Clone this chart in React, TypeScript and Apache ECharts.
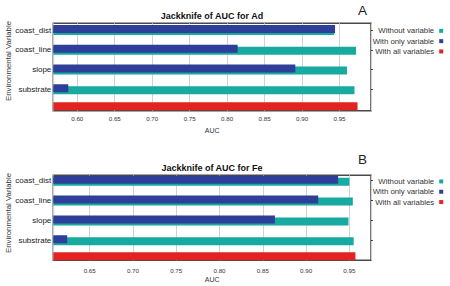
import React, { useEffect, useRef } from 'react';
import * as echarts from 'echarts';

const variables = ['coast_dist', 'coast_line', 'slope', 'substrate'];
const allLabel = ['all variables'];
const legendNames = ['Without variable', 'With only variable', 'With all variables'];

const adWithout = [0.943, 0.972, 0.960, 0.970];
const adWithOnly = [0.944, 0.814, 0.891, 0.588];
const adAll = [0.974];
const adRange = [0.568, 0.992];

const feWithout = [0.950, 0.954, 0.949, 0.955];
const feWithOnly = [0.937, 0.914, 0.864, 0.624];
const feAll = [0.957];
const feRange = [0.608, 0.975];

const titles = ['Jackknife of AUC for Ad', 'Jackknife of AUC for Fe'];
const panelLetters = ['A', 'B'];
const xName = 'AUC';
const yName = 'Environmental Variable';

export default function App() {
  const ref = useRef<HTMLDivElement>(null);
  useEffect(() => {
    if (!ref.current) return;
    const chart = echarts.init(ref.current, null, { renderer: 'svg' });
    const font = '"Liberation Sans", Arial, Helvetica, sans-serif';
    const teal = '#17aaa1';
    const blue = '#2d3f98';
    const red = '#e2231f';
    const panels = [
      {
        without: adWithout, only: adWithOnly, all: adAll, range: adRange,
        frameTop: 23.3, frameBottom: 110.7, rowFirst: 30, rowLast: 89.3, redCenter: 106.2,
        titleY: 16, letterY: 10.7, legendTop: 25.7, labelMargin: 5, yNameY: 61,
      },
      {
        without: feWithout, only: feWithOnly, all: feAll, range: feRange,
        frameTop: 175.3, frameBottom: 260.3, rowFirst: 180.7, rowLast: 240.3, redCenter: 256.3,
        titleY: 168, letterY: 159.7, legendTop: 176.3, labelMargin: 7.5, yNameY: 213,
      },
    ];
    const left = 53.3;
    const right = 79;
    const grid: any[] = [];
    const xAxis: any[] = [];
    const yAxis: any[] = [];
    const series: any[] = [];
    const graphic: any[] = [];
    const legend: any[] = [];

    panels.forEach((p, i) => {
      const band = (p.rowLast - p.rowFirst) / (variables.length - 1);
      const g0 = grid.length;
      grid.push({
        left, right, top: p.frameTop, height: p.frameBottom - p.frameTop,
        show: true, borderColor: '#4a4a4a', borderWidth: 1.5, backgroundColor: 'transparent',
      });
      grid.push({ left, right, top: p.rowFirst - band / 2, height: band * variables.length });
      grid.push({ left, right, top: p.redCenter - 4.5, height: 9 });

      xAxis.push({
        gridIndex: g0, type: 'value', min: p.range[0], max: p.range[1], splitNumber: 8,
        axisLine: { show: false }, axisTick: { show: false },
        splitLine: { show: true, lineStyle: { color: '#d2d2d2', width: 1 } },
        axisLabel: {
          showMinLabel: false, showMaxLabel: false,
          formatter: (v: number) => v.toFixed(2),
          fontSize: 6.2, color: '#333', margin: p.labelMargin, fontFamily: font,
        },
        name: xName, nameLocation: 'middle', nameGap: 16,
        nameTextStyle: { fontSize: 7, color: '#333', fontFamily: font },
      });
      xAxis.push({ gridIndex: g0 + 1, type: 'value', min: p.range[0], max: p.range[1], show: false });
      xAxis.push({ gridIndex: g0 + 2, type: 'value', min: p.range[0], max: p.range[1], show: false });

      const y0 = yAxis.length;
      yAxis.push({ gridIndex: g0, type: 'value', show: false, min: 0, max: 1 });
      yAxis.push({
        gridIndex: g0 + 1, type: 'category', data: variables, inverse: true,
        axisLine: { show: false }, axisTick: { show: false },
        axisLabel: { fontSize: 8, color: '#222', margin: 2, fontFamily: font },
      });
      yAxis.push({
        gridIndex: g0 + 1, type: 'category', data: variables, inverse: true, position: 'right',
        axisLine: { show: false },
        axisTick: { show: true, alignWithLabel: true, length: 2, lineStyle: { color: '#444' } },
        axisLabel: { show: false },
      });
      yAxis.push({ gridIndex: g0 + 2, type: 'category', data: allLabel, show: false });

      series.push({
        type: 'bar', name: legendNames[1], xAxisIndex: g0 + 1, yAxisIndex: y0 + 1,
        data: p.only, barWidth: 8, barGap: '-75%', itemStyle: { color: blue }, z: 3, clip: true,
      });
      series.push({
        type: 'bar', name: legendNames[0], xAxisIndex: g0 + 1, yAxisIndex: y0 + 1,
        data: p.without, barWidth: 8, barGap: '-75%', itemStyle: { color: teal }, z: 2, clip: true,
      });
      series.push({
        type: 'bar', name: legendNames[2], xAxisIndex: g0 + 2, yAxisIndex: y0 + 3,
        data: p.all, barWidth: 8, itemStyle: { color: red }, z: 2, clip: true,
      });

      legend.push({
        orient: 'vertical', right: 6.8, top: p.legendTop, data: legendNames,
        itemWidth: 4, itemHeight: 4, icon: 'rect', align: 'right', itemGap: 0, padding: 0,
        selectedMode: false,
        textStyle: { fontSize: 7.8, lineHeight: 10.3, color: '#333', fontFamily: font },
      });

      graphic.push({
        type: 'text', x: 212, y: p.titleY,
        style: {
          text: titles[i], fontSize: 9, fontWeight: 'bold', fontFamily: font, fill: '#111',
          align: 'center', verticalAlign: 'middle',
        },
      });
      graphic.push({
        type: 'text', x: 362.5, y: p.letterY,
        style: {
          text: panelLetters[i], fontSize: 13.5, fontFamily: font, fill: '#222',
          align: 'center', verticalAlign: 'middle',
        },
      });
      graphic.push({
        type: 'text', x: 8, y: p.yNameY, rotation: Math.PI / 2,
        style: {
          text: yName, fontSize: 7.8, fontFamily: font, fill: '#333',
          align: 'center', verticalAlign: 'middle',
        },
      });
    });

    chart.setOption({
      animation: false,
      backgroundColor: '#ffffff',
      grid, xAxis, yAxis, series, legend, graphic,
    });
    return () => chart.dispose();
  }, []);
  return (
    <div
      ref={ref}
      style={{ position: 'fixed', left: 0, top: 0, width: 450, height: 286 }}
    />
  );
}
